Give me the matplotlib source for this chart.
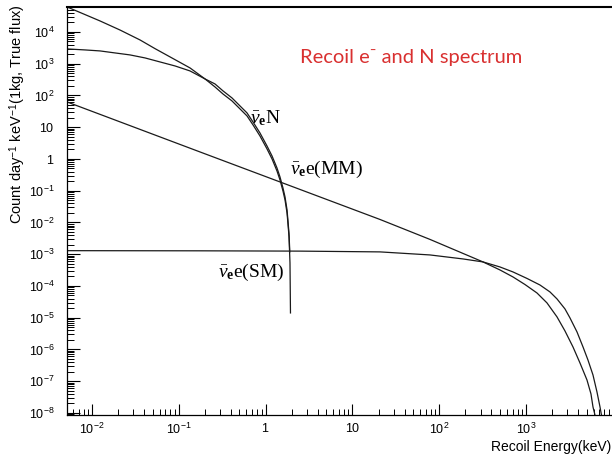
import numpy as np
import matplotlib
matplotlib.use("Agg")
import matplotlib.pyplot as plt
from matplotlib.ticker import FixedLocator, LogLocator, FuncFormatter, NullFormatter

plt.rcParams['font.family'] = ['Liberation Sans', 'DejaVu Sans']
plt.rcParams['mathtext.fontset'] = 'custom'
plt.rcParams['mathtext.rm'] = 'Liberation Serif'
plt.rcParams['mathtext.it'] = 'Liberation Serif:italic'
plt.rcParams['mathtext.bf'] = 'Liberation Serif:bold'
plt.rcParams['mathtext.sf'] = 'Liberation Sans'

# nuclear recoil, steep curve from the top left
nuc_a_x = [0.00515, 0.01236, 0.0210, 0.0357, 0.0532, 0.0793, 0.1346, 0.2004, 0.2612, 0.323,
           0.410, 0.507, 0.611, 0.716, 0.861, 1.038, 1.186, 1.352, 1.465, 1.585, 1.674,
           1.766, 1.811, 1.862, 1.91, 1.935]
nuc_a_y = [6.13e4, 2.22e4, 1.15e4, 5.6e3, 2979, 1633, 735, 331, 185, 111,
           67.1, 37.6, 22.6, 11.8, 5.30, 2.07, 1.0, 0.419, 0.218, 0.0982, 0.0512,
           0.0199, 8.97e-3, 3.49e-3, 5.3e-4, 1.41e-5]

# nuclear recoil, flatter curve
nuc_b_x = [0.00515, 0.00830, 0.01236, 0.0184, 0.0274, 0.0408, 0.0607, 0.0904, 0.1346, 0.2004,
           0.2612, 0.323, 0.410, 0.507, 0.611, 0.716, 0.861, 1.038, 1.186, 1.352, 1.465,
           1.585, 1.674, 1.766, 1.811, 1.862, 1.90]
nuc_b_y = [2917, 2711, 2523, 2181, 1888, 1518, 1135, 849, 591, 331,
           230, 139, 83.4, 46.7, 28.1, 14.6, 6.59, 2.56, 1.24, 0.521, 0.271,
           0.122, 0.0636, 0.0248, 0.0111, 4.34e-3, 1.18e-3]

# electron recoil, magnetic moment
mm_x = [0.00515, 0.1754, 2.49, 20.8, 78.3, 320, 501, 708, 973, 1339, 1746, 2277, 2813,
        3479, 4188, 5046, 5610, 5916, 6237, 6400]
mm_y = [62.4, 1.66, 0.1094, 0.0124, 2.92e-3, 5.70e-4, 3.19e-4, 1.92e-4, 1.11e-4, 6.0e-5,
        2.92e-5, 1.06e-5, 3.83e-6, 1.2e-6, 3.76e-7, 1.09e-7, 3.96e-8, 1.55e-8, 8.6e-9, 5.2e-9]

# electron recoil, standard model
sm_x = [0.00515, 0.1754, 2.49, 20.8, 78.3, 188, 320, 501, 708, 1028, 1449, 1890, 2277,
        2813, 3214, 3871, 4540, 5176, 5916, 6577, 7126, 7508]
sm_y = [1.29e-3, 1.276e-3, 1.248e-3, 1.18e-3, 9.46e-4, 7.08e-4, 5.70e-4, 3.96e-4, 2.76e-4,
        1.72e-4, 1.07e-4, 6.47e-5, 3.90e-5, 1.89e-5, 9.82e-6, 3.56e-6, 1.2e-6, 4.67e-7,
        1.57e-7, 4.58e-8, 1.55e-8, 6.97e-9]

x_decades = [1e-2, 1e-1, 1, 10, 1e2, 1e3]
y_decades = [10.0 ** k for k in range(-8, 5)]

fig = plt.figure(figsize=(6.12, 4.57), dpi=100)
ax = fig.add_axes([67 / 612, 1 - 415 / 457, 1 - 67 / 612, (415 - 7) / 457])

for xs, ys in [(nuc_a_x, nuc_a_y), (nuc_b_x, nuc_b_y), (mm_x, mm_y), (sm_x, sm_y)]:
    ax.plot(xs, ys, color='#1a1a1a', lw=0.9)

ax.set_xscale('log')
ax.set_yscale('log')
ax.set_xlim(0.00515, 9800)
ax.set_ylim(8.6e-9, 6.1e4)

ax.spines['right'].set_visible(False)
ax.spines['top'].set_linewidth(1.5)
ax.spines['left'].set_linewidth(0.9)
ax.spines['bottom'].set_linewidth(0.9)


def fmt(v, pos):
    k = int(round(np.log10(v)))
    if k == 0:
        return r'$\mathsf{1}$'
    if k == 1:
        return r'$\mathsf{10}$'
    return r'$\mathsf{10^{%d}}$' % k


ax.xaxis.set_major_locator(FixedLocator(x_decades))
ax.yaxis.set_major_locator(FixedLocator(y_decades))
ax.xaxis.set_minor_locator(LogLocator(base=10, subs=np.arange(2, 10), numticks=20))
ax.yaxis.set_minor_locator(LogLocator(base=10, subs=np.arange(2, 10), numticks=30))
ax.xaxis.set_major_formatter(FuncFormatter(fmt))
ax.yaxis.set_major_formatter(FuncFormatter(fmt))
ax.xaxis.set_minor_formatter(NullFormatter())
ax.yaxis.set_minor_formatter(NullFormatter())
ax.tick_params(axis='y', which='major', direction='in', length=9.4, width=0.8, pad=9, labelsize=9)
ax.tick_params(axis='y', which='minor', direction='in', length=5, width=0.7)
ax.tick_params(axis='x', which='major', direction='in', length=8, width=0.8, pad=5, labelsize=9)
ax.tick_params(axis='x', which='minor', direction='in', length=4, width=0.7)
ax.tick_params(top=False, right=False, which='both')

serif = ['Liberation Serif', 'DejaVu Serif']
ax.text(0.66, 19.5, r'$\bar{\nu}_{\mathbf{e}}$N', fontsize=14, ha='left', va='center', family=serif)
ax.text(1.91, 0.451, r'$\bar{\nu}_{\mathbf{e}}$e(MM)', fontsize=14, ha='left', va='center', family=serif)
ax.text(0.283, 2.57e-4, r'$\bar{\nu}_{\mathbf{e}}$e(SM)', fontsize=14, ha='left', va='center', family=serif)

fig.text(411 / 612, 1 - 57 / 457, 'Recoil e\u207b and N spectrum', color='#d93030',
         fontsize=14.5, ha='center', va='center', family=['Lato', 'DejaVu Sans'])
fig.text(0.998, 1 - 447 / 457, 'Recoil Energy(keV)', fontsize=10, ha='right', va='center')
fig.text(18 / 612, 1 - 4 / 457, r'Count day$^{\mathsf{-1}}$ keV$^{\mathsf{-1}}$(1kg, True flux)',
         fontsize=10.5, rotation=90, ha='center', va='top')

fig.savefig('out.png', dpi=100)
